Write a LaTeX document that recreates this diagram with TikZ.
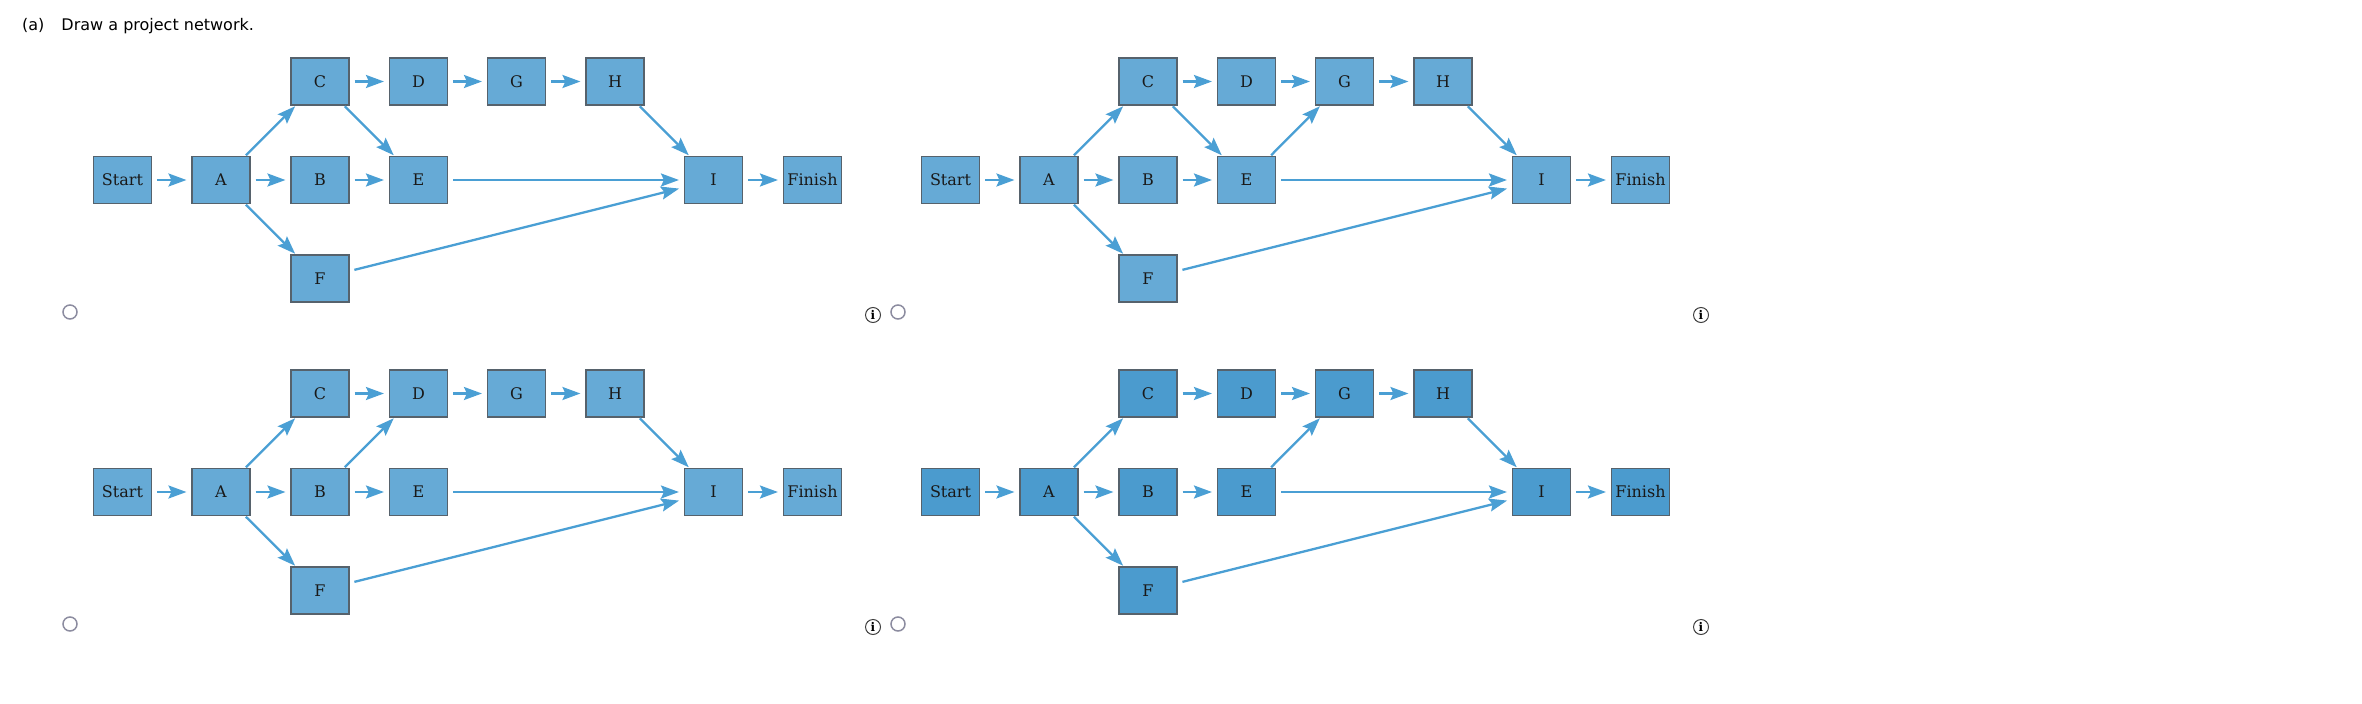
\documentclass[tikz,border=0pt]{standalone}
\usepackage{fontspec}
\setmainfont{DejaVu Serif}
\newfontfamily\titlefont{DejaVu Sans}
\usetikzlibrary{arrows.meta}
\definecolor{boxlight}{HTML}{66AAD6}
\definecolor{boxdark}{HTML}{4B9BCE}
\definecolor{arrowblue}{HTML}{4A9FD4}
\definecolor{boxedge}{HTML}{56626C}
\definecolor{radiogray}{HTML}{8C8CA0}
\begin{document}
\begin{tikzpicture}[
			x=1pt, y=-1pt,
			task node/.style={draw=boxedge, line width=1.1pt, minimum width=58pt, minimum height=47pt, inner sep=0pt, text=black!90, font=\fontsize{16}{18}\selectfont},
			flow line/.style={-{Stealth[length=18pt,width=13pt,inset=3pt]}, draw=arrowblue, line width=2.3pt, shorten <=5pt, shorten >=5pt},
			diag line/.style={flow line, shorten <=1pt, shorten >=1pt},
			radio node/.style={circle, draw=radiogray, line width=1.5pt, minimum size=14pt, inner sep=0pt},
			info node/.style={circle, draw=black!75, line width=1pt, minimum size=15pt, inner sep=0pt, font=\bfseries\fontsize{12}{12}\selectfont}
			]
			\useasboundingbox (0,0) rectangle (2362,704);
			\newcommand{\drawnet}[1]{
				\node[task node, fill=#1] (Start) at (122.5,180) {Start};
				\node[task node, fill=#1] (A) at (221,180) {A};
				\node[task node, fill=#1] (B) at (320,180) {B};
				\node[task node, fill=#1] (C) at (320,81.5) {C};
				\node[task node, fill=#1] (F) at (320,278.5) {F};
				\node[task node, fill=#1] (D) at (418.5,81.5) {D};
				\node[task node, fill=#1] (E) at (418.5,180) {E};
				\node[task node, fill=#1] (G) at (516.5,81.5) {G};
				\node[task node, fill=#1] (H) at (615,81.5) {H};
				\node[task node, fill=#1] (I) at (713.5,180) {I};
				\node[task node, fill=#1] (Finish) at (812.5,180) {Finish};
				
				\draw[flow line] (Start) -- (A);
				\draw[flow line] (A) -- (B);
				\draw[diag line] (A) -- (C);
				\draw[diag line] (A) -- (F);
				\draw[flow line] (C) -- (D);
				\draw[flow line] (D) -- (G);
				\draw[flow line] (G) -- (H);
				\draw[flow line] (B) -- (E);
				\draw[flow line] (E) -- (I);
				\draw[flow line] (F) -- (I);
				\draw[diag line] (H) -- (I);
				\draw[flow line] (I) -- (Finish);
				
				\node[radio node] (radio) at (70,312) {};
				\node[info node] (info) at (873,315) {i};
			}
			\node[anchor=base west, inner sep=0pt, font=\titlefont\fontsize{16}{18}\selectfont] (title) at (22,30) {(a)\hspace{17pt}Draw a project network.};
			\begin{scope}[name prefix=p1-]
				\drawnet{boxlight}
				\draw[diag line] (C) -- (E);
			\end{scope}
			\begin{scope}[xshift=828pt, name prefix=p2-]
				\drawnet{boxlight}
				\draw[diag line] (C) -- (E);
				\draw[diag line] (E) -- (G);
			\end{scope}
			\begin{scope}[yshift=-312pt, name prefix=p3-]
				\drawnet{boxlight}
				\draw[diag line] (B) -- (D);
			\end{scope}
			\begin{scope}[xshift=828pt, yshift=-312pt, name prefix=p4-]
				\drawnet{boxdark}
				\draw[diag line] (E) -- (G);
			\end{scope}
		\end{tikzpicture}
\end{document}
